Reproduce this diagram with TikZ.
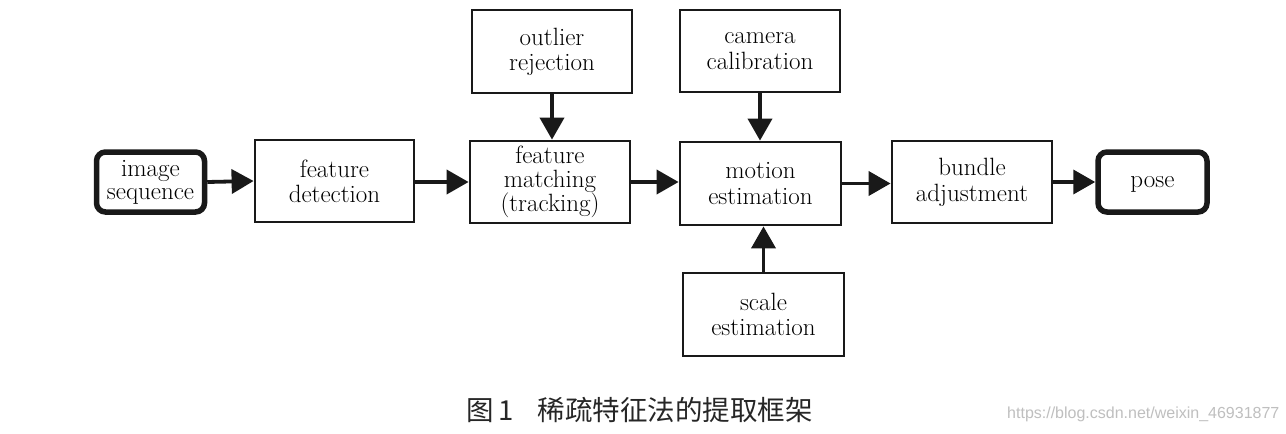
\documentclass[tikz,border=0pt]{standalone}
\usepackage{fontspec}
\newfontfamily\cjk{Noto Sans CJK SC}
\newfontfamily\wmfont{Liberation Sans}
\usetikzlibrary{arrows.meta}
\begin{document}
\begin{tikzpicture}[x=1pt,y=-1pt,
  proc/.style={draw=black!90, line width=2.8pt, rectangle, inner sep=0pt, align=center,
     font=\fontsize{25}{25}\selectfont, minimum width=160pt, minimum height=82pt},
  term/.style={draw=black!90, line width=5.5pt, rectangle, rounded corners=9pt, inner sep=0pt, align=center,
     font=\fontsize{25}{25}\selectfont, minimum width=108pt, minimum height=60pt},
  flow/.style={draw=black!90, line width=3.8pt, -{Triangle[length=22pt,width=24pt]}}
]
\useasboundingbox[fill=white] (0,0) rectangle (1286,434);
\node[term] (img) at (150.5,182) {image\\[-2pt]sequence};
\node[proc, minimum width=159pt] (fd) at (334.5,181) {feature\\detection};
\node[proc] (fm) at (550,182) {feature\\[-1pt]matching\\[-1pt](tracking)};
\node[proc, minimum height=83pt] (outl) at (552,51.5) {outlier\\rejection};
\node[proc] (cam) at (760,51) {camera\\[1pt]calibration};
\node[proc, minimum width=161pt, minimum height=83pt] (mot) at (760.5,183.5) {motion\\[1pt]estimation};
\node[proc, minimum width=161pt, minimum height=83pt] (scl) at (763.5,314.5) {scale\\estimation};
\node[proc] (ba) at (972,182) {bundle\\[1pt]adjustment};
\node[term, minimum width=109pt, text depth=0pt] (pose) at (1152.5,182) {pose};

\draw[flow] (img.east) -- (fd.west);
\draw[flow] (fd.east |- fm.west) -- (fm.west);
\draw[flow] (fm.east) -- (fm.east -| mot.west);
\draw[flow] (mot.east) -- (mot.east -| ba.west);
\draw[flow] (ba.east) -- (pose.west);
\draw[flow] (outl.south) -- (outl.south |- fm.north);
\draw[flow] (cam.south) -- (cam.south |- mot.north);
\draw[flow] (scl.north) -- (scl.north |- mot.south);

\node[anchor=west, inner sep=0pt, font=\cjk\fontsize{27.5}{30}\selectfont, text=black!85] (cap) at (466,410) {图\hspace{5pt}1\hspace{24pt}稀疏特征法的提取框架};
\node[anchor=west, inner sep=0pt, font=\wmfont\fontsize{16}{18}\selectfont, text=black!25] (wm) at (1007,414) {https://blog.csdn.net/weixin\_46931877};
\end{tikzpicture}
\end{document}
